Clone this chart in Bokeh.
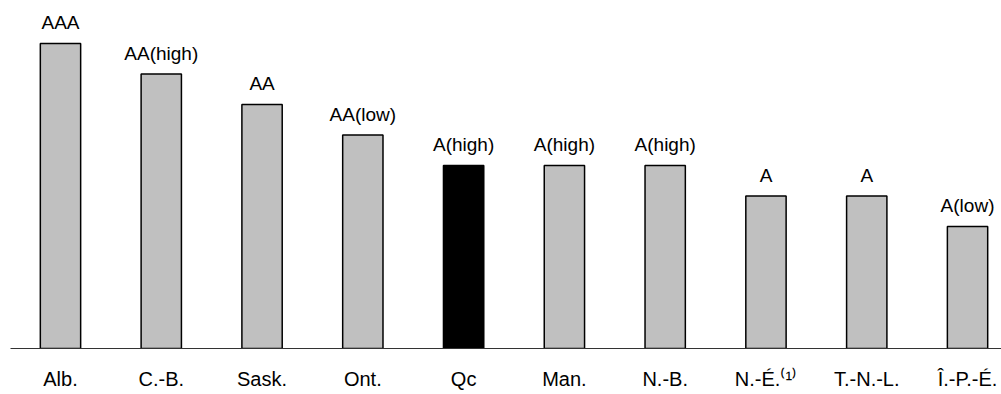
from bokeh.plotting import figure
from bokeh.models import ColumnDataSource, FixedTicker, Range1d
from bokeh.core.properties import value
from bokeh.embed import file_html
from bokeh.resources import INLINE

# Data
provinces = ["Alb.", "C.-B.", "Sask.", "Ont.", "Qc", "Man.", "N.-B.", "N.-É.", "T.-N.-L.", "Î.-P.-É."]
ratings = ["AAA", "AA(high)", "AA", "AA(low)", "A(high)", "A(high)", "A(high)", "A", "A", "A(low)"]
notches = [10, 9, 8, 7, 6, 6, 6, 5, 5, 4]
colors = ["#C0C0C0", "#C0C0C0", "#C0C0C0", "#C0C0C0", "#000000", "#C0C0C0", "#C0C0C0", "#C0C0C0", "#C0C0C0", "#C0C0C0"]
footnote_idx = 7
footnote = "\u207d\u00b9\u207e"

xs = list(range(len(provinces)))
src = ColumnDataSource(dict(x=xs, y=notches, r=ratings, c=colors))

FONT = "Liberation Sans"

p = figure(width=1001, height=394, output_backend="svg", toolbar_location=None,
           x_range=Range1d(-0.496, 9.337), y_range=Range1d(0, 11.15),
           min_border_left=10, min_border_right=0, min_border_top=8, min_border_bottom=46)
p.outline_line_color = None
p.xgrid.visible = False
p.ygrid.visible = False
p.yaxis.visible = False

p.vbar(x="x", top="y", width=0.4, bottom=0, source=src, fill_color="c",
       line_color="black", line_width=1.5)

p.text(x="x", y="y", text="r", source=src, text_align="center", text_baseline="alphabetic",
       y_offset=-21, text_font=value(FONT), text_font_size="19px", text_color="black")

labels = {i: n for i, n in enumerate(provinces)}
labels[footnote_idx] = provinces[footnote_idx] + footnote

ax = p.xaxis[0]
ax.ticker = FixedTicker(ticks=xs)
ax.major_label_overrides = labels
ax.major_tick_line_color = None
ax.minor_tick_line_color = None
ax.major_tick_out = 0
ax.major_tick_in = 0
ax.axis_line_color = "#333333"
ax.axis_line_width = 1
ax.major_label_text_font = FONT
ax.major_label_text_font_size = "20px"
ax.major_label_text_color = "black"
ax.major_label_standoff = 19

open("out.html", "w").write(file_html(p, INLINE))
